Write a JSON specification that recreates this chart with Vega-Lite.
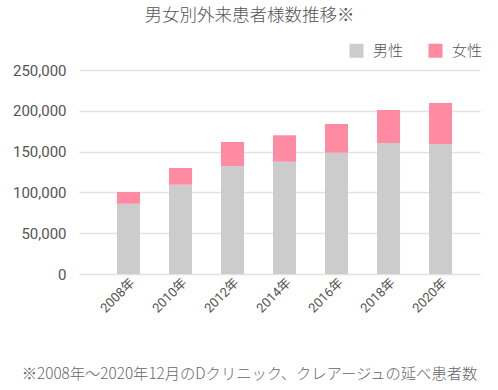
{
  "$schema": "https://vega.github.io/schema/vega-lite/v6.json",
  "width": 401,
  "height": 204,
  "autosize": {"type": "none"},
  "padding": {"left": 79, "top": 70, "right": 18, "bottom": 116},
  "background": "white",
  "config": {
    "view": {"stroke": null},
    "font": "Roboto, Noto Sans CJK JP",
    "axis": {"labelFont": "Roboto, Noto Sans CJK JP", "titleFont": "Noto Sans CJK JP"},
    "legend": {"labelFont": "Noto Sans CJK JP"}
  },
  "title": {
    "text": "男女別外来患者様数推移※",
    "font": "Noto Sans CJK JP",
    "fontSize": 17.5,
    "fontWeight": 300,
    "color": "#555555",
    "anchor": "middle",
    "dx": -30,
    "offset": 19
  },
  "data": {
    "values": [
      {"year": "2008年", "sex": "男性", "count": 86000},
      {"year": "2008年", "sex": "女性", "count": 14500},
      {"year": "2010年", "sex": "男性", "count": 109400},
      {"year": "2010年", "sex": "女性", "count": 20500},
      {"year": "2012年", "sex": "男性", "count": 132000},
      {"year": "2012年", "sex": "女性", "count": 29800},
      {"year": "2014年", "sex": "男性", "count": 137600},
      {"year": "2014年", "sex": "女性", "count": 32400},
      {"year": "2016年", "sex": "男性", "count": 148700},
      {"year": "2016年", "sex": "女性", "count": 35100},
      {"year": "2018年", "sex": "男性", "count": 160500},
      {"year": "2018年", "sex": "女性", "count": 40500},
      {"year": "2020年", "sex": "男性", "count": 159300},
      {"year": "2020年", "sex": "女性", "count": 50300}
    ]
  },
  "mark": {"type": "bar"},
  "encoding": {
    "x": {
      "field": "year",
      "type": "nominal",
      "sort": null,
      "scale": {"paddingInner": 0.558, "paddingOuter": 0.634, "align": 0.576},
      "axis": {
        "title": "※2008年～2020年12月のDクリニック、クレアージュの延べ患者数",
        "titleFontSize": 15.3,
        "titleFontWeight": 300,
        "titleColor": "#666666",
        "titleX": 170,
        "titleY": 99,
        "titleAlign": "center",
        "titleBaseline": "middle",
        "labelAngle": -45,
        "labelFontSize": 13,
        "labelColor": "#555555",
        "labelPadding": 2,
        "ticks": false,
        "domain": false,
        "grid": false
      }
    },
    "y": {
      "field": "count",
      "type": "quantitative",
      "stack": "zero",
      "scale": {"domain": [0, 250000]},
      "axis": {
        "title": null,
        "values": [0, 50000, 100000, 150000, 200000, 250000],
        "format": ",.0f",
        "labelFontSize": 15,
        "labelColor": "#555555",
        "labelPadding": 13,
        "ticks": false,
        "domain": false,
        "gridColor": "#e2e2e2",
        "gridWidth": 1.5
      }
    },
    "color": {
      "field": "sex",
      "type": "nominal",
      "sort": ["男性", "女性"],
      "scale": {"domain": ["男性", "女性"], "range": ["#cccccc", "#ff8ba3"]},
      "legend": {
        "title": null,
        "orient": "none",
        "direction": "horizontal",
        "legendX": 270,
        "legendY": -27,
        "symbolType": "square",
        "symbolSize": 196,
        "symbolStrokeWidth": 0,
        "labelFontSize": 15,
        "labelFontWeight": 300,
        "labelColor": "#555555",
        "labelOffset": 9,
        "columnPadding": 24
      }
    }
  }
}
